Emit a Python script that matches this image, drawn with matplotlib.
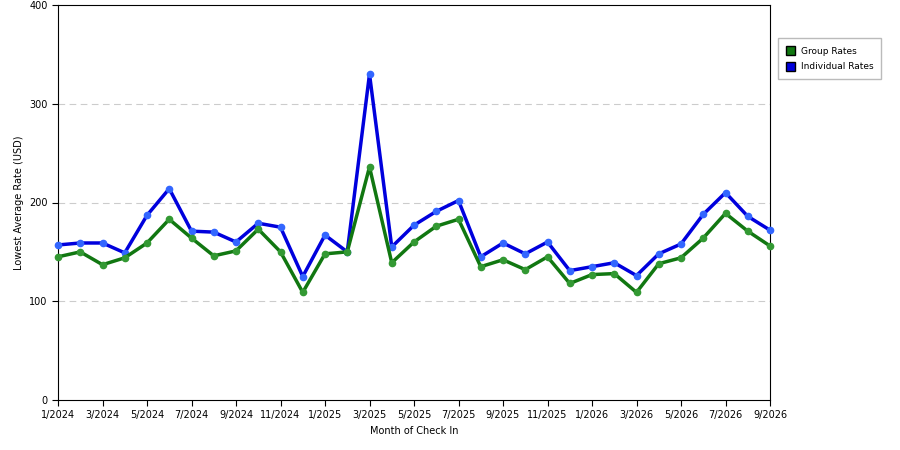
import matplotlib.pyplot as plt
from matplotlib.patches import Patch

months = [f"{m}/{y}" for y in (2024, 2025, 2026) for m in range(1, 13)][:33]
group_rates = [145, 150, 137, 144, 159, 183, 164, 146, 151, 173, 150, 109, 148, 150, 236, 139,
               160, 176, 183, 135, 142, 132, 145, 118, 127, 128, 109, 138, 144, 164, 189, 171, 156]
indiv_rates = [157, 159, 159, 149, 187, 214, 171, 170, 160, 179, 175, 125, 167, 150, 330, 155,
               177, 191, 202, 145, 159, 148, 160, 131, 135, 139, 126, 148, 158, 188, 210, 186, 172]

fig = plt.figure(figsize=(9, 4.5), dpi=100)
ax = fig.add_axes([58/900, 50/450, 712/900, 395/450])
x = range(len(months))
for vals, col, mk in [(indiv_rates, '#0000dd', '#3366ff'), (group_rates, '#117711', '#339933')]:
    ax.plot(x, vals, color=col, lw=2.5, marker='o', ms=4.5, mfc=mk, mec=mk, zorder=3,
            clip_on=False)

ax.set_xlim(0, 32)
ax.set_ylim(0, 400)
ax.set_yticks([0, 100, 200, 300, 400])
ax.set_xticks(list(x)[::2])
ax.set_xticklabels(months[::2])
ax.tick_params(labelsize=7, length=4)
for y in (100, 200, 300):
    ax.axhline(y, color='#cccccc', lw=0.8, ls=(0, (6, 4)), zorder=1)
ax.set_xlabel('Month of Check In', fontsize=7)
ax.set_ylabel('Lowest Average Rate (USD)', fontsize=7)

fig.legend(handles=[Patch(fc='#117711', ec='black', label='Group Rates'),
                    Patch(fc='#0000dd', ec='black', label='Individual Rates')],
           loc='upper left', bbox_to_anchor=(778/900, 1 - 38/450), fontsize=6.5,
           frameon=True, fancybox=False, edgecolor='#aaaaaa', handlelength=1.0,
           handleheight=1.1, borderpad=0.9, handletextpad=0.6, labelspacing=0.7,
           borderaxespad=0)
fig.savefig('out.png')
